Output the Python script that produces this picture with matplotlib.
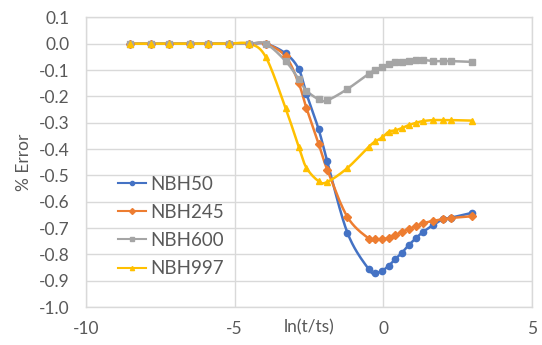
import numpy as np
import matplotlib
matplotlib.use("Agg")
import matplotlib.pyplot as plt

plt.rcParams['font.family'] = ['Lato', 'DejaVu Sans']

# ln(t/ts) sample positions shared by all four series
x_vals = [-8.5, -7.8, -7.2, -6.5, -5.9, -5.2, -4.5, -3.95, -3.28, -2.84, -2.58,
          -2.17, -1.88, -1.2, -0.48, -0.26, -0.03, 0.19, 0.41, 0.64, 0.86,
          1.12, 1.33, 1.68, 2.02, 2.27, 3.0]

nbh50 = [0, 0, 0, 0, 0, 0, 0, 0.0, -0.037, -0.096, -0.19,
         -0.325, -0.447, -0.718, -0.857, -0.870, -0.862, -0.843, -0.818, -0.793, -0.765,
         -0.737, -0.716, -0.689, -0.666, -0.661, -0.642]
nbh245 = [0, 0, 0, 0, 0, 0, 0, 0.0, -0.048, -0.150, -0.244,
          -0.380, -0.478, -0.658, -0.740, -0.743, -0.743, -0.737, -0.727, -0.714, -0.704,
          -0.692, -0.682, -0.673, -0.666, -0.662, -0.655]
nbh600 = [0, 0, 0, 0, 0, 0, 0, 0.0, -0.066, -0.135, -0.178,
          -0.211, -0.215, -0.172, -0.114, -0.100, -0.090, -0.078, -0.071, -0.068, -0.066,
          -0.061, -0.061, -0.066, -0.066, -0.066, -0.069]
nbh997 = [0, 0, 0, 0, 0, 0, 0, -0.05, -0.245, -0.392, -0.471,
          -0.522, -0.525, -0.472, -0.391, -0.371, -0.356, -0.334, -0.329, -0.320, -0.309,
          -0.300, -0.294, -0.290, -0.290, -0.290, -0.292]

series_names = ["NBH50", "NBH245", "NBH600", "NBH997"]
series_vals = [nbh50, nbh245, nbh600, nbh997]
colors = ["#4472C4", "#ED7D31", "#A5A5A5", "#FFC000"]
markers = ["o", "D", "s", "^"]
msizes = [4.5, 4.0, 4.2, 5.0]

x_ticks = [-10, -5, 0, 5]
y_ticks = [0.1, 0.0, -0.1, -0.2, -0.3, -0.4, -0.5, -0.6, -0.7, -0.8, -0.9, -1.0]


def smooth(xs, ys, n=20):
    """Catmull-Rom style Bezier smoothing through every point."""
    p = np.column_stack([xs, ys]).astype(float)
    pts = [p[0]]
    for i in range(len(p) - 1):
        p0 = p[i - 1] if i > 0 else p[i]
        p1, p2 = p[i], p[i + 1]
        p3 = p[i + 2] if i + 2 < len(p) else p[i + 1]
        c1 = p1 + (p2 - p0) / 6.0
        c2 = p2 - (p3 - p1) / 6.0
        t = np.linspace(0, 1, n)[1:, None]
        seg = ((1 - t) ** 3) * p1 + 3 * ((1 - t) ** 2) * t * c1 + 3 * (1 - t) * t ** 2 * c2 + t ** 3 * p2
        pts.extend(seg)
    pts = np.array(pts)
    return pts[:, 0], pts[:, 1]


fig = plt.figure(figsize=(5.42, 3.45), dpi=100)
ax = fig.add_axes([0.1585, 0.110, 0.8225, 0.8396])

text_color = "#595959"
grid_color = "#D9D9D9"

handles = []
for name, vals, c, m, ms in zip(series_names, series_vals, colors, markers, msizes):
    sx, sy = smooth(x_vals, vals)
    ax.plot(sx, sy, color=c, lw=1.8, zorder=3)
    ax.plot(x_vals, vals, linestyle="none", marker=m, color=c, ms=ms, zorder=4)
    h, = ax.plot([], [], color=c, lw=1.5, marker=m, ms=3)
    handles.append(h)

ax.set_xlim(-10, 5)
ax.set_ylim(-1.0, 0.1)
ax.set_xticks(x_ticks)
ax.set_yticks(y_ticks)
ax.set_xticklabels([f"{v:d}" for v in x_ticks])
ax.set_yticklabels([f"{v:.1f}" for v in y_ticks])
ax.grid(True, color=grid_color, lw=1.0, zorder=0)
for s in ax.spines.values():
    s.set_color(grid_color)
    s.set_linewidth(1.0)
ax.tick_params(length=0, labelsize=12.5, colors=text_color)
ax.tick_params(axis="y", pad=12)
ax.tick_params(axis="x", pad=10)

ax.set_ylabel("% Error", fontsize=12.5, color=text_color, labelpad=5)
ax.text(-2.5, -1.045, "ln(t/ts)", fontsize=12.5,
        color=text_color, ha="center", va="top")

leg = ax.legend(handles, series_names, loc="upper left",
                bbox_to_anchor=(0.055, 0.48), frameon=False, fontsize=13.5,
                labelcolor=text_color, handlelength=1.5, handletextpad=0.2,
                labelspacing=0.6, borderaxespad=0)

fig.savefig("out.png", dpi=100)
